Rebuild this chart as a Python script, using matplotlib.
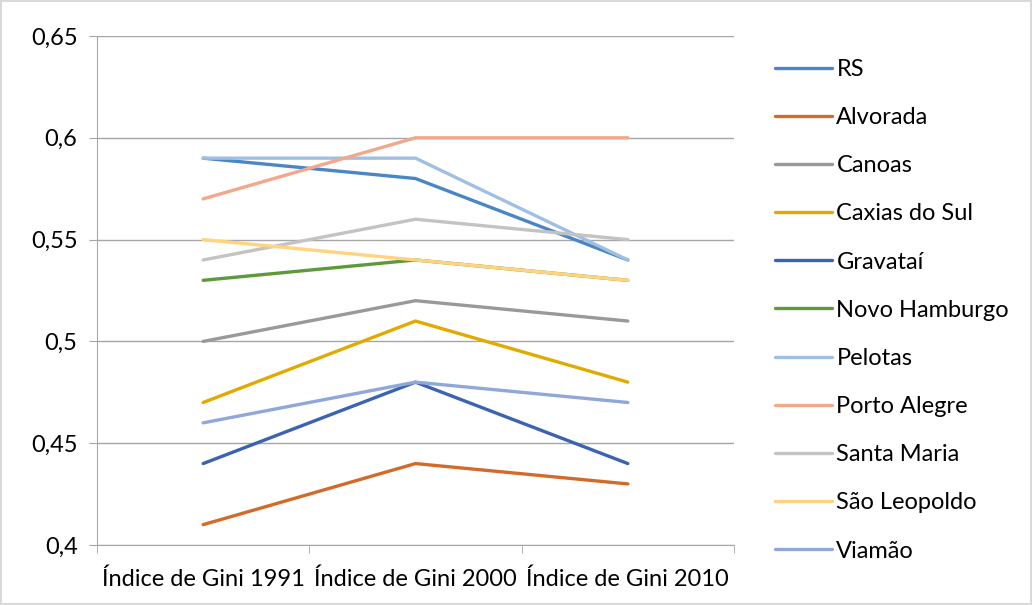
import matplotlib.pyplot as plt
from matplotlib.ticker import FixedLocator

plt.rcParams['font.family'] = ['Lato', 'DejaVu Sans']

categorias = ["Índice de Gini 1991", "Índice de Gini 2000", "Índice de Gini 2010"]

municipios = ["RS", "Alvorada", "Canoas", "Caxias do Sul", "Gravataí", "Novo Hamburgo",
              "Pelotas", "Porto Alegre", "Santa Maria", "São Leopoldo", "Viamão"]

rs = [0.59, 0.58, 0.54]
alvorada = [0.41, 0.44, 0.43]
canoas = [0.50, 0.52, 0.51]
caxias = [0.47, 0.51, 0.48]
gravatai = [0.44, 0.48, 0.44]
novo_hamburgo = [0.53, 0.54, 0.53]
pelotas = [0.59, 0.59, 0.54]
porto_alegre = [0.57, 0.60, 0.60]
santa_maria = [0.54, 0.56, 0.55]
sao_leopoldo = [0.55, 0.54, 0.53]
viamao = [0.46, 0.48, 0.47]

valores = [rs, alvorada, canoas, caxias, gravatai, novo_hamburgo,
           pelotas, porto_alegre, santa_maria, sao_leopoldo, viamao]

cores = ["#4A86C5", "#D26B2A", "#999999", "#E0AA00", "#3A63B0", "#5E9A3A",
         "#9FC0E4", "#F2A88A", "#C3C3C3", "#FFD37F", "#8FA8D9"]

fig = plt.figure(figsize=(10.32, 6.05), dpi=100)
fig.patch.set_edgecolor("#D9D9D9")
fig.patch.set_linewidth(1.5)
ax = fig.add_axes([97 / 1032, 1 - 545 / 605, (734 - 97) / 1032, (545 - 36) / 605])

x = [0.5, 1.5, 2.5]
for nome, v, c in zip(municipios, valores, cores):
    ax.plot(x, v, color=c, lw=2.4, label=nome, solid_capstyle="round")

ax.set_xlim(0, 3)
ax.set_ylim(0.4, 0.65)
yt = [0.4, 0.45, 0.5, 0.55, 0.6, 0.65]
ax.set_yticks(yt)
ax.set_yticklabels([("%g" % t).replace(".", ",") for t in yt], fontsize=17)
ax.yaxis.grid(True, color="#A6A6A6", lw=1)
ax.set_axisbelow(True)

ax.set_xticks(x)
ax.set_xticklabels(categorias, fontsize=17)
ax.xaxis.set_minor_locator(FixedLocator([0, 1, 2, 3]))
ax.tick_params(axis="x", which="major", length=0, pad=17)
ax.tick_params(axis="x", which="minor", length=6, color="#A6A6A6")
ax.tick_params(axis="y", length=6, color="#A6A6A6", pad=8)

for s in ["top", "right"]:
    ax.spines[s].set_visible(False)
for s in ["left", "bottom"]:
    ax.spines[s].set_color("#A6A6A6")

ax.legend(loc="upper left", bbox_to_anchor=(775 / 1032, 1 - 59 / 605),
          bbox_transform=fig.transFigure, frameon=False, fontsize=17,
          handlelength=2.4, handletextpad=0.2, labelspacing=1.15,
          borderaxespad=0, borderpad=0)

fig.savefig("out.png", dpi=100)
